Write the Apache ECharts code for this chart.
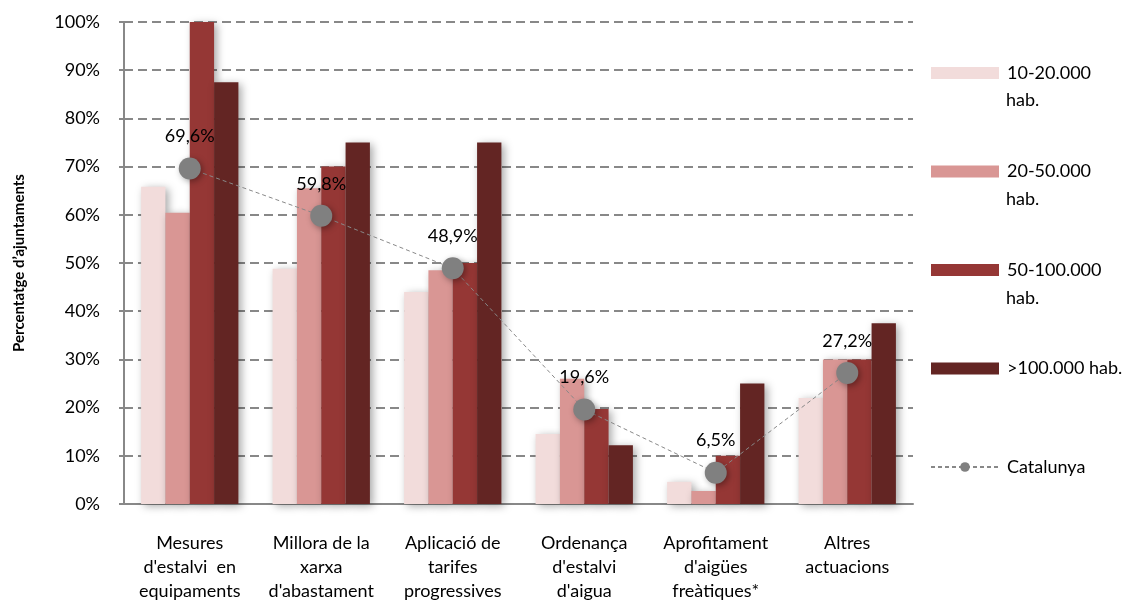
<!DOCTYPE html>
<html>
<head>
<meta charset="utf-8">
<script src="https://cdn.jsdelivr.net/npm/echarts@6/dist/echarts.min.js"></script>
<style>
  html, body { margin: 0; padding: 0; background: #fff; }
  #chart { width: 1128px; height: 602px; }
</style>
</head>
<body>
<div id="chart"></div>
<script>
const categories = [
  "Mesures\nd'estalvi  en\nequipaments",
  "Millora de la\nxarxa\nd'abastament",
  "Aplicació de\ntarifes\nprogressives",
  "Ordenança\nd'estalvi\nd'aigua",
  "Aprofitament\nd'aigües\nfreàtiques*",
  "Altres\nactuacions"
]
const hab10_20 = [65.8, 48.8, 44, 14.5, 4.6, 22]
const hab20_50 = [60.4, 65.5, 48.5, 26, 2.7, 30]
const hab50_100 = [100, 70, 50, 19.7, 10, 30]
const hab100 = [87.5, 75, 75, 12.2, 25, 37.5]
const catalunya = [69.6, 59.8, 48.9, 19.6, 6.5, 27.2]
const yTicks = { min: 0, max: 100, interval: 10 }

const barNames = ['10-20.000 hab.', '20-50.000 hab.', '50-100.000 hab.', '>100.000 hab.']
const legendFirstLine = ['10-20.000', '20-50.000', '50-100.000', '>100.000 hab.']
const colors = ['#F2DCDB', '#D99694', '#953735', '#632523']
const font = 'Lato, "Open Sans", sans-serif'

const chart = echarts.init(document.getElementById('chart'))

const barData = [hab10_20, hab20_50, hab50_100, hab100]
const barSeries = barData.map((vals, i) => ({
  name: barNames[i],
  type: 'bar',
  data: vals,
  barGap: '0%',
  barCategoryGap: '26%',
  itemStyle: {
    color: colors[i],
    shadowBlur: 8,
    shadowColor: 'rgba(0,0,0,0.35)',
    shadowOffsetX: 3,
    shadowOffsetY: 2,
  },
}))

const options = {
  animation: false,
  textStyle: { fontFamily: font },
  grid: { left: 124, right: 215, top: 22, bottom: 98, outerBoundsMode: 'none' },
  legend: {
    orient: 'vertical',
    left: 930,
    top: 64,
    padding: 0,
    itemWidth: 68,
    itemHeight: 12,
    itemGap: 80.5,
    data: [...barNames.map(n => ({ name: n, icon: 'rect' })), { name: 'Catalunya' }],
    formatter: name => {
      const idx = barNames.indexOf(name)
      return idx >= 0 ? legendFirstLine[idx] : name
    },
    textStyle: { fontSize: 18, color: '#000', fontFamily: font, padding: [0, 0, 0, 3] },
  },
  graphic: [0, 1, 2].map(i => ({
    type: 'text',
    left: 1006,
    top: 91 + i * 99,
    style: { text: 'hab.', fontSize: 18, fill: '#000', fontFamily: font },
  })),
  xAxis: {
    type: 'category',
    data: categories,
    axisLine: { lineStyle: { color: '#888', width: 2 } },
    axisTick: { show: false },
    axisLabel: { color: '#000', fontSize: 18, lineHeight: 24, margin: 27, interval: 0, fontFamily: font },
  },
  yAxis: {
    type: 'value',
    min: yTicks.min,
    max: yTicks.max,
    interval: yTicks.interval,
    name: 'Percentatge d’ajuntaments',
    nameLocation: 'middle',
    nameGap: 97,
    nameTextStyle: { fontSize: 15, fontWeight: 'bold', color: '#000', fontFamily: font },
    axisLine: { show: true, lineStyle: { color: '#888', width: 2 } },
    axisTick: { show: true, length: 5, lineStyle: { color: '#888', width: 2 } },
    axisLabel: { formatter: '{value}%', color: '#000', fontSize: 18, margin: 24, fontFamily: font },
    splitLine: { lineStyle: { color: '#888', width: 2, type: [9, 5] } },
  },
  series: [
    ...barSeries,
    {
      name: 'Catalunya',
      type: 'line',
      data: catalunya,
      symbol: 'circle',
      symbolSize: 22,
      z: 5,
      itemStyle: {
        color: '#808080',
        shadowBlur: 6,
        shadowColor: 'rgba(0,0,0,0.35)',
        shadowOffsetX: 2,
        shadowOffsetY: 2,
      },
      lineStyle: { color: '#888', width: 1, type: [4, 3] },
      label: {
        show: true,
        position: 'top',
        distance: 12,
        color: '#000',
        fontSize: 18,
        fontFamily: font,
        formatter: p => String(p.value).replace('.', ',') + '%',
      },
    },
  ],
}

chart.setOption(options)
</script>
</body>
</html>
